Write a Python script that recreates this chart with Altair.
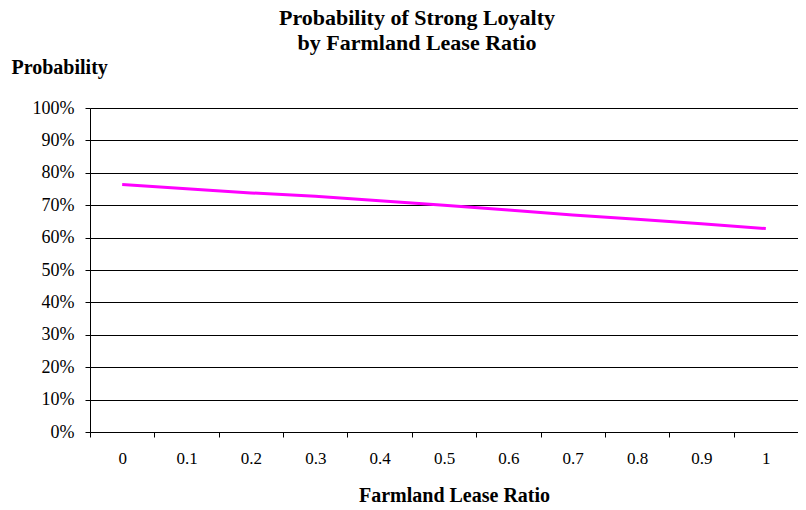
import altair as alt
import pandas as pd

# Data
lease_ratio = ["0", "0.1", "0.2", "0.3", "0.4", "0.5", "0.6", "0.7", "0.8", "0.9", "1"]
probability = [0.764, 0.751, 0.738, 0.728, 0.714, 0.700, 0.685, 0.670, 0.657, 0.643, 0.628]
y_ticks = [0.0, 0.1, 0.2, 0.3, 0.4, 0.5, 0.6, 0.7, 0.8, 0.9, 1.0]

df = pd.DataFrame({"ratio": lease_ratio, "prob": probability})

SERIF = "Liberation Serif"

line = alt.Chart(df).mark_line(color="#FF00FF", strokeWidth=3).encode(
    x=alt.X(
        "ratio:N",
        sort=lease_ratio,
        bandPosition=0.5,
        scale=alt.Scale(type="band", paddingInner=0, paddingOuter=0),
        axis=alt.Axis(
            tickBand="extent",
            labelAngle=0,
            grid=False,
            domainColor="black",
            tickColor="black",
            tickSize=5,
            labelFont=SERIF,
            labelFontSize=17,
            labelColor="black",
            labelPadding=13,
            title="Farmland Lease Ratio",
            titleFont=SERIF,
            titleFontSize=20,
            titleFontWeight="bold",
            titleColor="black",
            titleX=364,
            titleY=63,
            titleBaseline="middle",
            titleAlign="center",
        ),
    ),
    y=alt.Y(
        "prob:Q",
        scale=alt.Scale(domain=[0, 1], nice=False, zero=True),
        axis=alt.Axis(
            values=y_ticks,
            format=".0%",
            grid=True,
            gridColor="black",
            gridOpacity=1,
            gridWidth=1,
            domainColor="black",
            tickColor="black",
            tickSize=5,
            labelFont=SERIF,
            labelFontSize=18,
            labelColor="black",
            labelPadding=11,
            title="Probability",
            titleFont=SERIF,
            titleFontSize=20,
            titleFontWeight="bold",
            titleColor="black",
            titleAngle=0,
            titleX=-79,
            titleY=-35,
            titleAlign="left",
            titleBaseline="alphabetic",
        ),
    ),
)

chart = line.properties(
    width=708,
    height=324,
    autosize=alt.AutoSizeParams(type="none"),
    padding={"left": 82, "top": 100, "right": 0, "bottom": 78},
    title=alt.TitleParams(
        text=["Probability of Strong Loyalty", "by Farmland Lease Ratio"],
        font=SERIF,
        fontSize=22,
        fontWeight="bold",
        color="black",
        anchor="middle",
        frame="group",
        dx=-27,
        dy=2,
        lineHeight=25,
    ),
).configure_view(stroke=None).configure(background="white")

chart.save("out.html", embed_options={"renderer": "svg", "actions": False})
